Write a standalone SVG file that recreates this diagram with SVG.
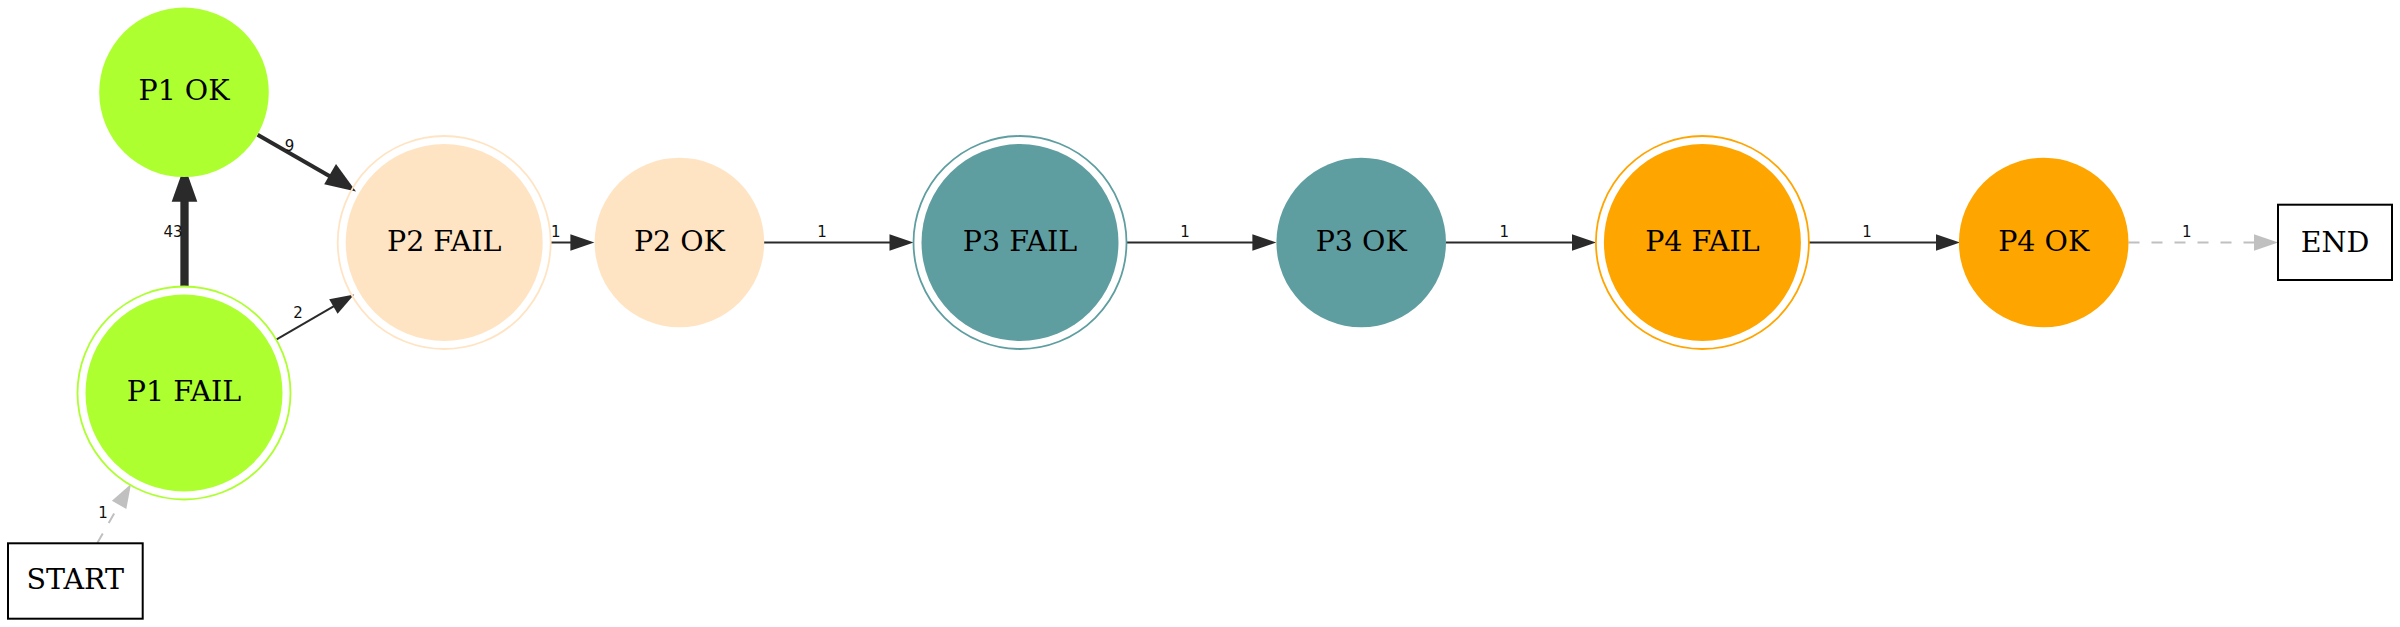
<svg xmlns="http://www.w3.org/2000/svg" width="2400" height="627" viewBox="0 0 2400 627">
<style>
.lbl{font-family:"DejaVu Serif","Liberation Serif",serif;font-size:28.5px;fill:#000;text-anchor:middle}
.el{font-family:"DejaVu Sans","Liberation Sans",sans-serif;font-size:15px;fill:#111;text-anchor:middle}
.e{stroke:#2a2a2a;stroke-width:2;fill:none}
.ah{fill:#2a2a2a;stroke:none}
.g{stroke:#c0c0c0;stroke-width:2;fill:none;stroke-dasharray:11,12}
.gh{fill:#c0c0c0;stroke:none}
.box{fill:#fff;stroke:#000;stroke-width:2}
</style>
<rect width="2400" height="627" fill="#fff"/>
<g id="connectors">
  <!-- START -> P1 FAIL -->
  <line class="g" x1="97.3" y1="543" x2="119.1" y2="504.8"/>
  <polygon class="gh" points="131,484 111.9,500.7 126.3,508.9"/>
  <text class="el" x="103" y="518">1</text>
  <!-- P1 FAIL -> P1 OK -->
  <line x1="184.5" y1="286.5" x2="184.5" y2="200" stroke="#2a2a2a" stroke-width="8.3"/>
  <polygon class="ah" points="184.5,165.7 171.7,201.7 197.3,201.7"/>
  <text class="el" x="173" y="237">43</text>
  <!-- P1 OK -> P2 FAIL -->
  <line x1="257.6" y1="134.8" x2="332" y2="177.5" stroke="#2a2a2a" stroke-width="4"/>
  <polygon class="ah" points="356,191.5 324.2,184.3 336,163.9"/>
  <text class="el" x="289.5" y="150.5">9</text>
  <!-- P1 FAIL -> P2 FAIL -->
  <line class="e" x1="276.2" y1="339.6" x2="334" y2="306.2"/>
  <polygon class="ah" points="354.2,294.5 337.6,313.7 329.2,299.3"/>
  <text class="el" x="298" y="318">2</text>
  <!-- P2 FAIL -> P2 OK -->
  <line class="e" x1="550.7" y1="242.5" x2="572" y2="242.5"/>
  <polygon class="ah" points="594.4,242.5 570.4,234.2 570.4,250.8"/>
  <text class="el" x="555.8" y="236.7">1</text>
  <!-- P2 OK -> P3 FAIL -->
  <line class="e" x1="764" y1="242.5" x2="891" y2="242.5"/>
  <polygon class="ah" points="913.5,242.5 889.5,234.2 889.5,250.8"/>
  <text class="el" x="822" y="236.7">1</text>
  <!-- P3 FAIL -> P3 OK -->
  <line class="e" x1="1126.5" y1="242.5" x2="1254" y2="242.5"/>
  <polygon class="ah" points="1276.4,242.5 1252.4,234.2 1252.4,250.8"/>
  <text class="el" x="1185" y="236.7">1</text>
  <!-- P3 OK -> P4 FAIL -->
  <line class="e" x1="1446" y1="242.5" x2="1574" y2="242.5"/>
  <polygon class="ah" points="1596,242.5 1572,234.2 1572,250.8"/>
  <text class="el" x="1504.3" y="236.7">1</text>
  <!-- P4 FAIL -> P4 OK -->
  <line class="e" x1="1808.9" y1="242.5" x2="1937" y2="242.5"/>
  <polygon class="ah" points="1960,242.5 1936,234.2 1936,250.8"/>
  <text class="el" x="1867" y="236.7">1</text>
  <!-- P4 OK -> END -->
  <line class="g" x1="2128.5" y1="242.5" x2="2256" y2="242.5"/>
  <polygon class="gh" points="2278,242.5 2254,234.2 2254,250.8"/>
  <text class="el" x="2186.7" y="236.7">1</text>
</g>
<g id="START">
  <rect class="box" x="8" y="543.3" width="134.7" height="75.4"/>
  <text class="lbl" x="75.3" y="589">START</text>
</g>
<g id="P1_OK">
  <circle cx="184" cy="92.3" r="84.8" fill="#adff2f"/>
  <text class="lbl" x="184" y="100.3">P1 OK</text>
</g>
<g id="P1_FAIL">
  <circle cx="184" cy="393" r="106.5" fill="none" stroke="#adff2f" stroke-width="1.8"/>
  <circle cx="184" cy="393" r="98.5" fill="#adff2f"/>
  <text class="lbl" x="184" y="401">P1 FAIL</text>
</g>
<g id="P2_FAIL">
  <circle cx="444.2" cy="242.5" r="106.5" fill="none" stroke="#ffe4c4" stroke-width="1.8"/>
  <circle cx="444.2" cy="242.5" r="98.5" fill="#ffe4c4"/>
  <text class="lbl" x="444.2" y="250.5">P2 FAIL</text>
</g>
<g id="P2_OK">
  <circle cx="679.4" cy="242.5" r="84.8" fill="#ffe4c4"/>
  <text class="lbl" x="679.4" y="250.5">P2 OK</text>
</g>
<g id="P3_FAIL">
  <circle cx="1020" cy="242.5" r="106.5" fill="none" stroke="#5f9ea0" stroke-width="1.8"/>
  <circle cx="1020" cy="242.5" r="98.5" fill="#5f9ea0"/>
  <text class="lbl" x="1020" y="250.5">P3 FAIL</text>
</g>
<g id="P3_OK">
  <circle cx="1361.2" cy="242.5" r="84.8" fill="#5f9ea0"/>
  <text class="lbl" x="1361.2" y="250.5">P3 OK</text>
</g>
<g id="P4_FAIL">
  <circle cx="1702.4" cy="242.5" r="106.5" fill="none" stroke="#ffa500" stroke-width="1.8"/>
  <circle cx="1702.4" cy="242.5" r="98.5" fill="#ffa500"/>
  <text class="lbl" x="1702.4" y="250.5">P4 FAIL</text>
</g>
<g id="P4_OK">
  <circle cx="2043.7" cy="242.5" r="84.8" fill="#ffa500"/>
  <text class="lbl" x="2043.7" y="250.5">P4 OK</text>
</g>
<g id="END">
  <rect class="box" x="2278" y="204.7" width="114" height="75.3"/>
  <text class="lbl" x="2335" y="251.5">END</text>
</g>
</svg>
